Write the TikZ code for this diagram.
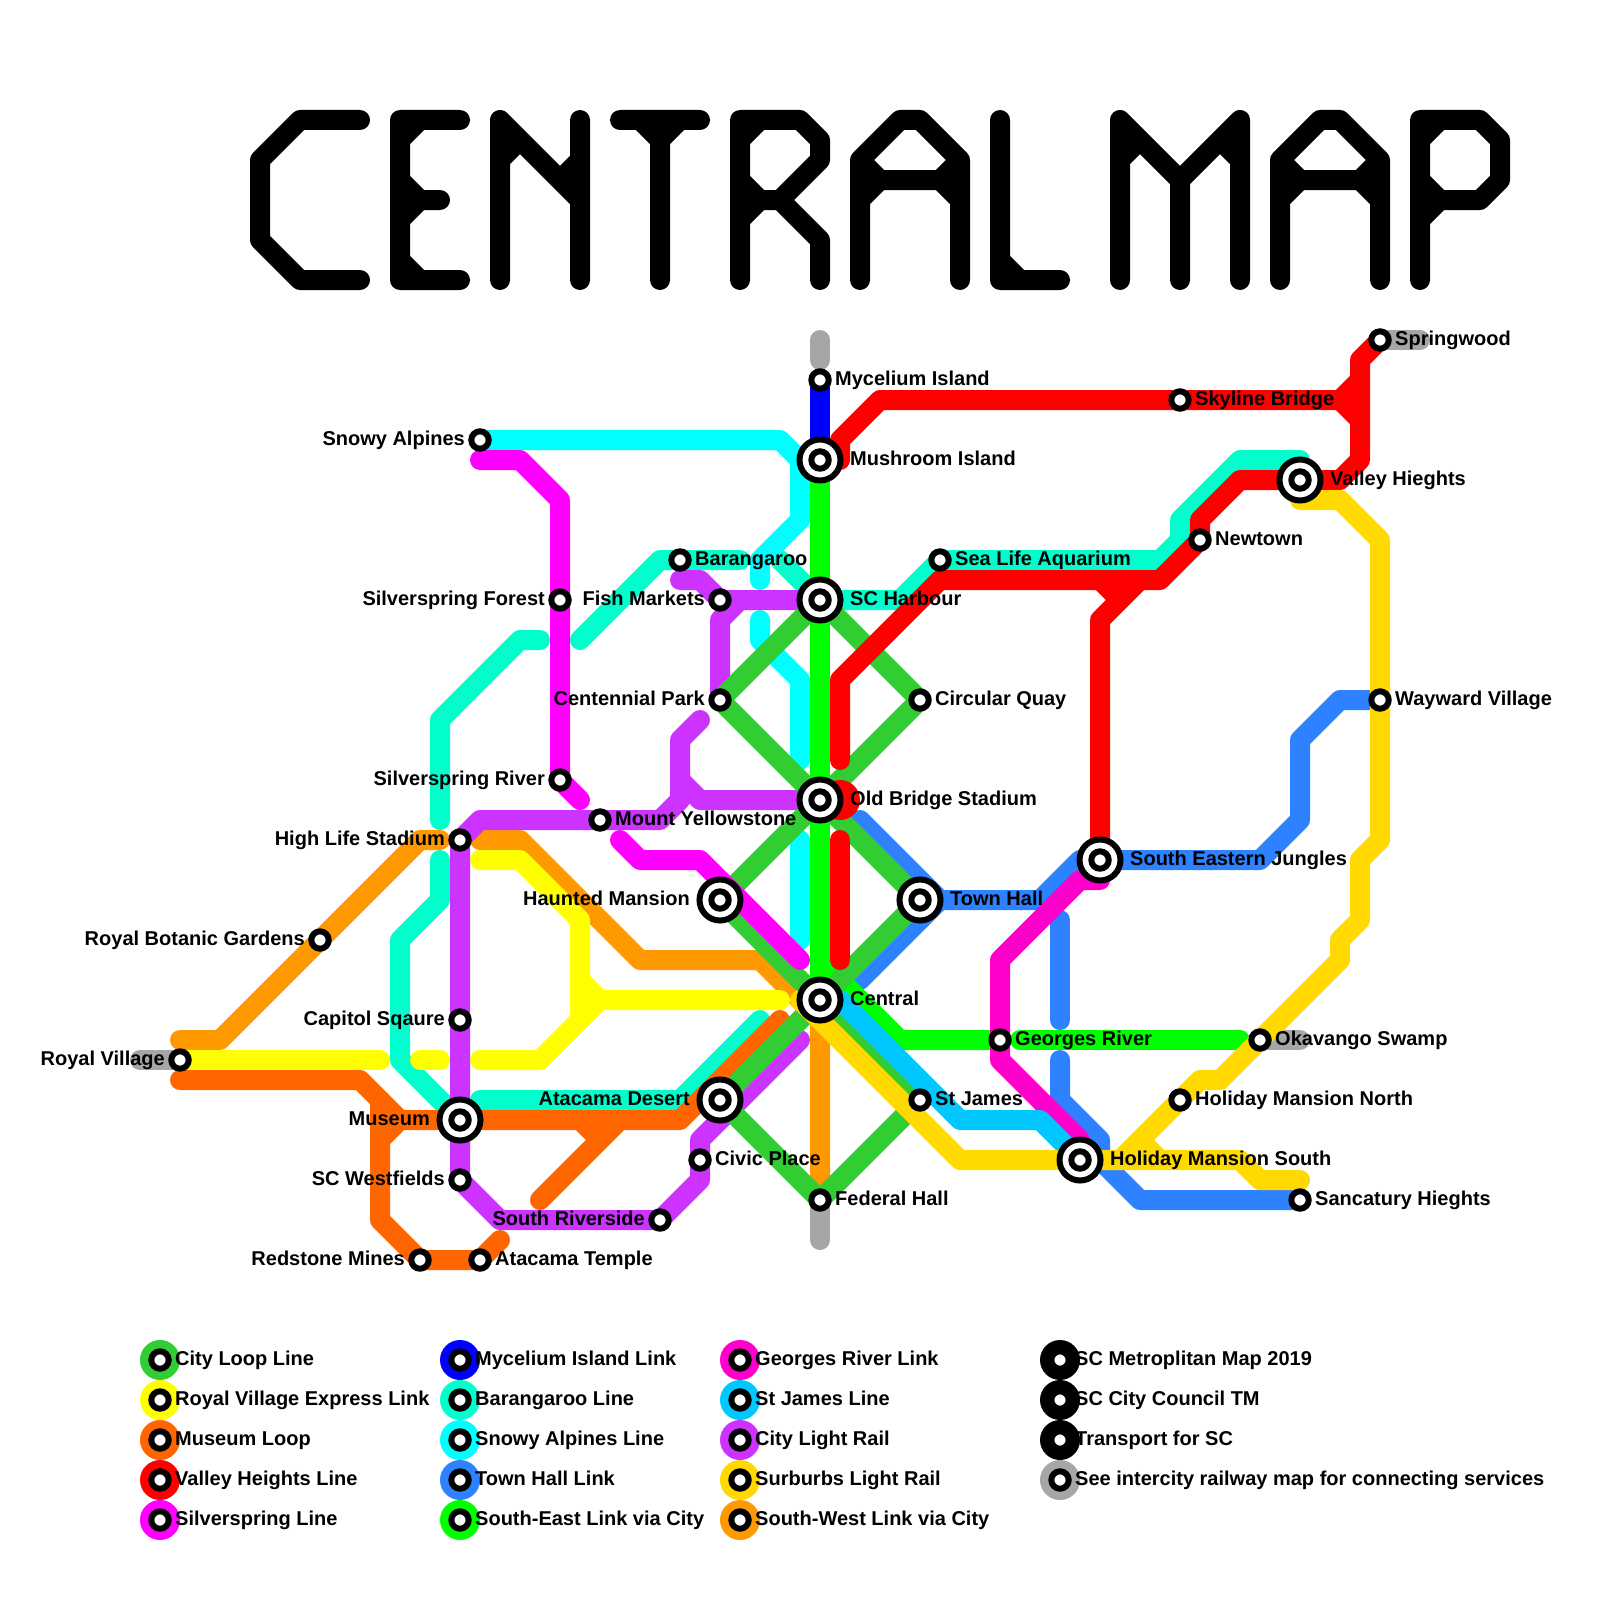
\documentclass[tikz,border=0pt]{standalone}
\usepackage{fontspec}
\setmainfont{Liberation Sans}
\definecolor{cLoop}{HTML}{32CD32}
\definecolor{cYel}{HTML}{FFFF00}
\definecolor{cMus}{HTML}{FF6600}
\definecolor{cRed}{HTML}{FF0000}
\definecolor{cMag}{HTML}{FF00FF}
\definecolor{cBlu}{HTML}{0000FF}
\definecolor{cTeal}{HTML}{00FFCC}
\definecolor{cCyan}{HTML}{00FFFF}
\definecolor{cTown}{HTML}{2E82FF}
\definecolor{cSE}{HTML}{00FF00}
\definecolor{cGeo}{HTML}{FF00CC}
\definecolor{cJam}{HTML}{00C8FF}
\definecolor{cPur}{HTML}{CC33FF}
\definecolor{cGold}{HTML}{FFD900}
\definecolor{cSW}{HTML}{FF9900}
\definecolor{cGray}{HTML}{A6A6A6}
\pgfdeclarelayer{lines}
\pgfsetlayers{lines,main}
\tikzset{
  smallst/.style={circle,draw=black,fill=white,line width=6pt,inner sep=0pt,outer sep=0pt,minimum size=17.4pt},
  bigst/.style={circle,draw=black,fill=white,line width=6pt,inner sep=0pt,outer sep=0pt,minimum size=41pt},
  txt/.style={inner sep=0pt,font=\fontsize{20}{24}\selectfont\bfseries},
  labR/.style={txt,anchor=base west,xshift=15pt,yshift=-5pt},
  labL/.style={txt,anchor=base east,xshift=-15pt,yshift=-5pt},
  bigR/.style={txt,anchor=base west,xshift=30pt,yshift=-5pt},
  bigL/.style={txt,anchor=base east,xshift=-30pt,yshift=-5pt},
  ln/.style={line width=20pt,line cap=round,line join=round},
  ttl/.style={ln,draw=black},
  lgdot/.style={circle,inner sep=0pt,outer sep=0pt,minimum size=40pt}
}
\newcommand{\stnS}[5]{\node[smallst] (#1) at (#2,#3) {}; \node[lab#4] (#1-t) at (#1.center) {#5};}
\newcommand{\stnB}[5]{\node[bigst] (#1) at (#2,#3) {}; \node[smallst] (#1-i) at (#1.center) {}; \node[big#4] (#1-t) at (#1.center) {#5};}
\newcommand{\lgd}[5]{\node[lgdot,fill=#4] (#1-c) at (#2,#3) {}; \node[smallst] (#1) at (#1-c.center) {}; \node[labR] (#1-t) at (#1-c.center) {#5};}
\begin{document}
\begin{tikzpicture}[x=1pt,y=-1pt]
\useasboundingbox (0,0) rectangle (1600,1600);
% stations
\stnS{myc}{820}{380}{R}{Mycelium Island}
\stnB{mush}{820}{460}{R}{Mushroom Island}
\stnB{harb}{820}{600}{R}{SC Harbour}
\stnB{oldb}{820}{800}{R}{Old Bridge Stadium}
\stnB{cent}{820}{1000}{R}{Central}
\stnS{fed}{820}{1200}{R}{Federal Hall}
\stnS{bar}{680}{560}{R}{Barangaroo}
\stnS{fish}{720}{600}{L}{Fish Markets}
\stnS{cpark}{720}{700}{L}{Centennial Park}
\stnS{quay}{920}{700}{R}{Circular Quay}
\stnS{sea}{940}{560}{R}{Sea Life Aquarium}
\stnS{alp}{480}{440}{L}{Snowy Alpines}
\stnS{sforest}{560}{600}{L}{Silverspring Forest}
\stnS{sriver}{560}{780}{L}{Silverspring River}
\stnS{yell}{600}{820}{R}{Mount Yellowstone}
\stnS{high}{460}{840}{L}{High Life Stadium}
\stnS{botan}{320}{940}{L}{Royal Botanic Gardens}
\stnS{capit}{460}{1020}{L}{Capitol Sqaure}
\stnS{royal}{180}{1060}{L}{Royal Village}
\stnB{muse}{460}{1120}{L}{Museum}
\stnS{westf}{460}{1180}{L}{SC Westfields}
\stnS{redst}{420}{1260}{L}{Redstone Mines}
\stnS{atemp}{480}{1260}{R}{Atacama Temple}
\stnS{sriv}{660}{1220}{L}{South Riverside}
\stnS{civic}{700}{1160}{R}{Civic Place}
\stnB{adese}{720}{1100}{L}{Atacama Desert}
\stnB{haunt}{720}{900}{L}{Haunted Mansion}
\stnB{town}{920}{900}{R}{Town Hall}
\stnS{jame}{920}{1100}{R}{St James}
\stnS{geor}{1000}{1040}{R}{Georges River}
\stnB{jung}{1100}{860}{R}{South Eastern Jungles}
\stnB{hsou}{1080}{1160}{R}{Holiday Mansion South}
\stnS{hnor}{1180}{1100}{R}{Holiday Mansion North}
\stnS{okav}{1260}{1040}{R}{Okavango Swamp}
\stnS{sanc}{1300}{1200}{R}{Sancatury Hieghts}
\stnS{sky}{1180}{400}{R}{Skyline Bridge}
\stnS{spring}{1380}{340}{R}{Springwood}
\stnB{vall}{1300}{480}{R}{Valley Hieghts}
\stnS{newt}{1200}{540}{R}{Newtown}
\stnS{way}{1380}{700}{R}{Wayward Village}
% legend
\lgd{l1}{160}{1360}{cLoop}{City Loop Line}
\lgd{l2}{160}{1400}{cYel}{Royal Village Express Link}
\lgd{l3}{160}{1440}{cMus}{Museum Loop}
\lgd{l4}{160}{1480}{cRed}{Valley Heights Line}
\lgd{l5}{160}{1520}{cMag}{Silverspring Line}
\lgd{l6}{460}{1360}{cBlu}{Mycelium Island Link}
\lgd{l7}{460}{1400}{cTeal}{Barangaroo Line}
\lgd{l8}{460}{1440}{cCyan}{Snowy Alpines Line}
\lgd{l9}{460}{1480}{cTown}{Town Hall Link}
\lgd{l10}{460}{1520}{cSE}{South-East Link via City}
\lgd{l11}{740}{1360}{cGeo}{Georges River Link}
\lgd{l12}{740}{1400}{cJam}{St James Line}
\lgd{l13}{740}{1440}{cPur}{City Light Rail}
\lgd{l14}{740}{1480}{cGold}{Surburbs Light Rail}
\lgd{l15}{740}{1520}{cSW}{South-West Link via City}
\lgd{l16}{1060}{1360}{black}{SC Metroplitan Map 2019}
\lgd{l17}{1060}{1400}{black}{SC City Council TM}
\lgd{l18}{1060}{1440}{black}{Transport for SC}
\lgd{l19}{1060}{1480}{cGray}{See intercity railway map for connecting services}
% title
\draw[ttl] (360,120)--(300,120)--(260,160)--(260,240)--(300,280)--(360,280);
\draw[ttl] (460,120)--(400,120)--(400,280)--(460,280) (400,140)--(420,120) (400,180)--(420,200)--(400,220) (420,200)--(440,200) (400,260)--(420,280);
\draw[ttl] (500,280)--(500,120)--(580,200)--(580,280) (580,200)--(580,120) (500,160)--(520,140) (580,160)--(560,180);
\draw[ttl] (620,120)--(700,120) (660,120)--(660,280) (640,120)--(660,140)--(680,120);
\draw[ttl] (740,280)--(740,120)--(800,120)--(820,140)--(820,160)--(780,200)--(820,240)--(820,280) (740,140)--(760,120) (740,180)--(760,200)--(740,220) (760,200)--(780,200);
\draw[ttl] (860,280)--(860,160)--(900,120)--(920,120)--(960,160)--(960,280) (860,160)--(880,180)--(940,180)--(960,160) (880,180)--(860,200) (940,180)--(960,200);
\draw[ttl] (1000,120)--(1000,280)--(1060,280) (1000,260)--(1020,280);
\draw[ttl] (1120,280)--(1120,120)--(1180,180)--(1240,120)--(1240,280) (1180,180)--(1180,280) (1120,160)--(1140,140) (1240,160)--(1220,140);
\draw[ttl] (1280,280)--(1280,160)--(1320,120)--(1340,120)--(1380,160)--(1380,280) (1280,160)--(1300,180)--(1360,180)--(1380,160) (1300,180)--(1280,200) (1360,180)--(1380,200);
\draw[ttl] (1420,280)--(1420,120)--(1480,120)--(1500,140)--(1500,180)--(1480,200)--(1440,200) (1420,140)--(1440,120) (1420,180)--(1440,200)--(1420,220);
% lines
\begin{pgfonlayer}{lines}
\fill[white] (0,0) rectangle (1600,1600);
\draw[ln,cGray] (820,340)--(820,360);
\draw[ln,cGray] (spring.center)--(1420,340);
\draw[ln,cGray] (okav.center)--(1300,1040);
\draw[ln,cGray] (140,1060)--(royal.center);
\draw[ln,cGray] (fed.center)--(820,1240);
\draw[ln,cBlu] (myc.center)--(mush.center);
% Barangaroo
\draw[ln,cTeal] (580,640)--(660,560)--(bar.center)--(740,560);
\draw[ln,cTeal] (780,560)--(harb.center)--(900,600)--(sea.center)--(1160,560)--(1180,540)--(1180,520)--(1240,460)--(1300,460)--(vall.center);
\draw[ln,cTeal] (540,640)--(520,640)--(440,720)--(440,820);
\draw[ln,cTeal] (440,860)--(440,900)--(400,940)--(400,1060)--(muse.center);
\draw[ln,cTeal] (480,1100)--(680,1100)--(760,1020);
% Snowy Alpines
\draw[ln,cCyan] (alp.center)--(780,440)--(800,460)--(800,520)--(760,560)--(760,580);
\draw[ln,cCyan] (760,620)--(760,640)--(800,680)--(800,760);
\draw[ln,cCyan] (800,840)--(800,940);
% yellow
\draw[ln,cSW] (180,1040)--(220,1040)--(botan.center)--(420,840)--(440,840);
\draw[ln,cSW] (480,840)--(520,840)--(640,960)--(760,960)--(820,1020)--(fed.center);
\draw[ln,cYel] (royal.center)--(380,1060);
\draw[ln,cYel] (420,1060)--(440,1060);
\draw[ln,cYel] (480,1060)--(540,1060)--(580,1020)--(580,920)--(520,860)--(480,860);
\draw[ln,cYel] (580,980)--(600,1000)--(780,1000) (600,1000)--(580,1020);
% Museum loop
\draw[ln,cMus] (180,1080)--(360,1080)--(400,1120)--(muse.center)--(680,1120)--(780,1020);
\draw[ln,cMus] (380,1100)--(380,1220)--(redst.center)--(atemp.center)--(500,1240) (380,1140)--(400,1120);
\draw[ln,cMus] (540,1200)--(620,1120) (580,1120)--(600,1140);
% Town Hall link
\draw[ln,cTown] (860,820)--(940,900)--(860,980);
\draw[ln,cTown] (town.center)--(1040,900)--(1080,860)--(jung.center)--(1260,860)--(1300,820)--(1300,740)--(1340,700)--(way.center);
\draw[ln,cTown] (1060,920)--(1060,1020);
\draw[ln,cTown] (1060,1060)--(1060,1100)--(1100,1140)--(1100,1160)--(1140,1200)--(sanc.center);
% City Light Rail
\draw[ln,cPur] (680,580)--(700,580)--(fish.center)--(harb.center) (740,600)--(720,620)--(cpark.center);
\draw[ln,cPur] (700,720)--(680,740)--(680,800)--(660,820)--(yell.center)--(480,820)--(high.center)--(capit.center)--(muse.center)--(westf.center)--(500,1220)--(sriv.center)--(700,1180)--(civic.center)--(700,1140)--(800,1040);
\draw[ln,cPur] (680,780)--(700,800)--(oldb.center);
% South-East link, branch
\draw[ln,cSE] (820,960)--(900,1040)--(geor.center);
\draw[ln,cSE] (1020,1040)--(1240,1040);
% City Loop
\draw[ln,cLoop] (harb.center)--(cpark.center)--(oldb.center)--(quay.center)--(harb.center);
\draw[ln,cLoop] (oldb.center)--(haunt.center)--(cent.center)--(town.center)--(oldb.center);
\draw[ln,cLoop] (cent.center)--(adese.center)--(fed.center)--(jame.center)--(cent.center);
% South-East link, trunk
\draw[ln,cSE] (mush.center)--(cent.center);
% Valley Heights
\draw[ln,cRed] (840,460)--(840,440)--(880,400)--(sky.center)--(1340,400)--(1360,380) (1340,400)--(1360,420);
\draw[ln,cRed] (spring.center)--(1360,360)--(1360,460)--(1340,480)--(vall.center)--(1240,480)--(1200,520)--(newt.center)--(1160,580)--(940,580)--(840,680)--(840,760);
\fill[cRed] (840,800) circle[radius=20pt];
\draw[ln,cRed] (840,840)--(840,960);
\draw[ln,cRed] (jung.center)--(1100,620)--(1140,580) (1100,580)--(1120,600);
% Silverspring
\draw[ln,cMag] (480,460)--(520,460)--(560,500)--(sforest.center)--(sriver.center)--(580,800);
\draw[ln,cMag] (620,840)--(640,860)--(700,860)--(800,960);
% Georges River
\draw[ln,cGeo] (jung.center)--(1100,880)--(1080,880)--(1000,960)--(geor.center)--(1000,1060)--(1080,1140)--(hsou.center);
% St James
\draw[ln,cJam] (840,1000)--(960,1120)--(1040,1120)--(hsou.center);
% Surburbs
\draw[ln,cGold] (1300,500)--(1340,500)--(1380,540)--(way.center)--(1380,840)--(1360,860)--(1360,920)--(1340,940)--(1340,960)--(okav.center)--(1220,1080)--(1200,1080)--(hnor.center)--(1120,1160);
\draw[ln,cGold] (1140,1140)--(1160,1160);
\draw[ln,cGold] (800,1000)--(960,1160)--(hsou.center)--(1240,1160)--(1260,1180)--(1300,1180);
\end{pgfonlayer}
\end{tikzpicture}
\end{document}
